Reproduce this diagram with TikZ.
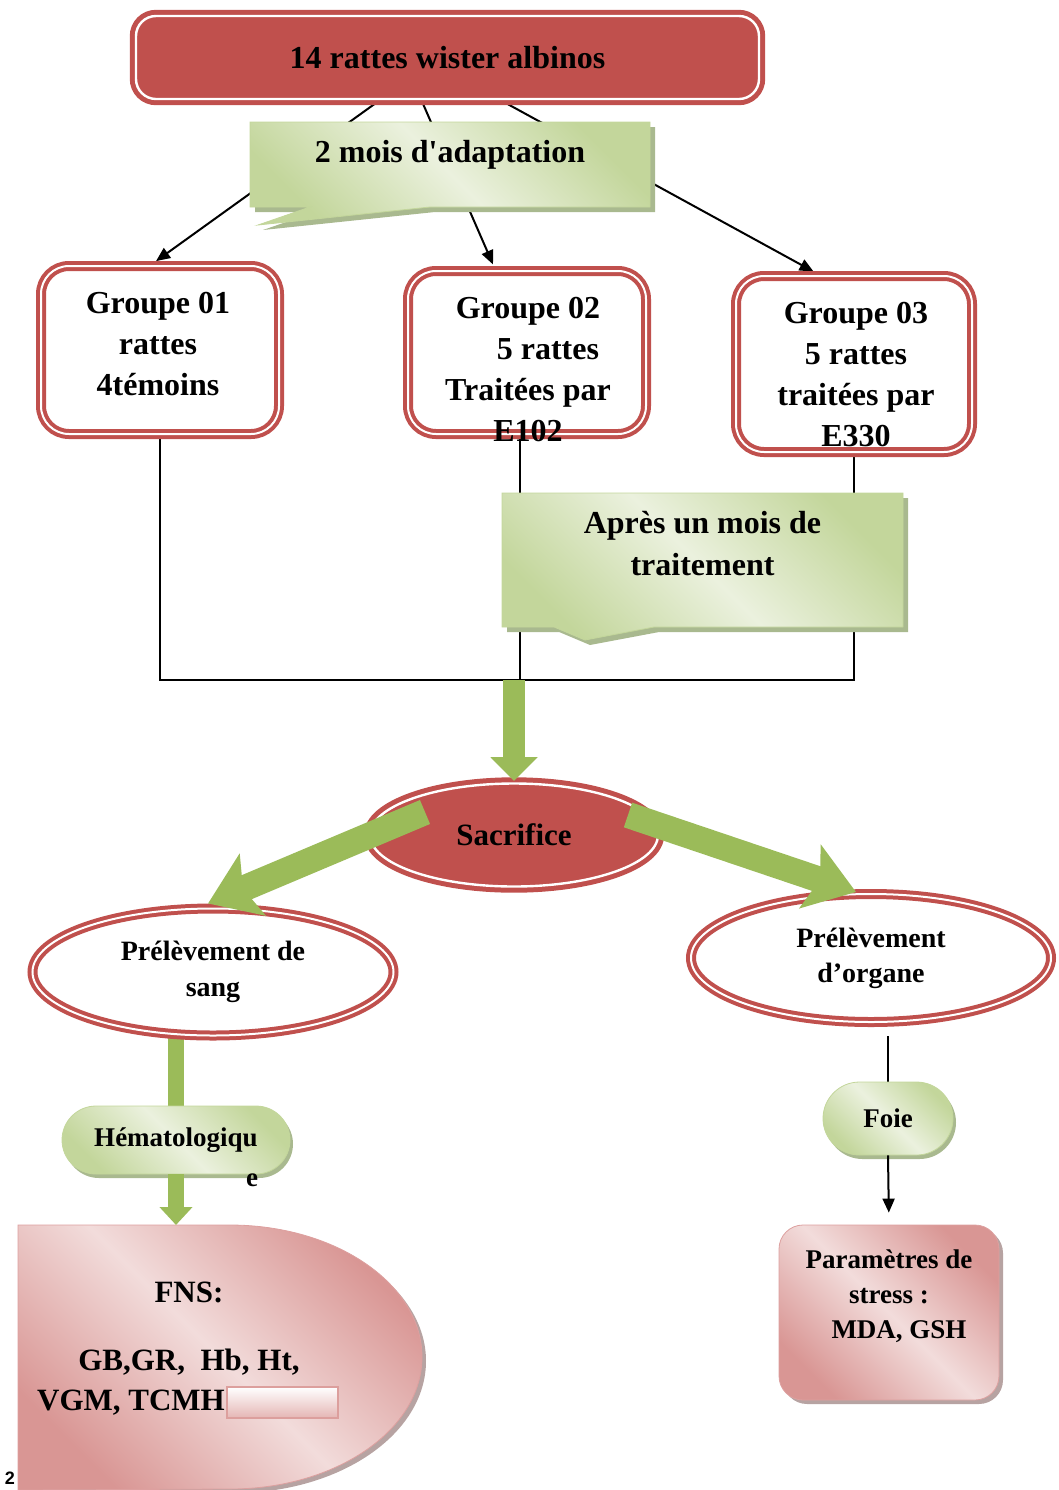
\documentclass[tikz,border=0pt]{standalone}
\usepackage{fontspec}
\setmainfont{Liberation Serif}
\newfontfamily\pagefont{Liberation Sans}
\usetikzlibrary{arrows.meta,calc,shapes.geometric,shapes.misc,shapes.callouts,shadows,backgrounds}

\definecolor{redd}{HTML}{C0504D}
\definecolor{grnL}{HTML}{EBF1DE}
\definecolor{grnD}{HTML}{C3D69B}
\definecolor{grnA}{HTML}{9BBB59}
\definecolor{grnS}{HTML}{A9B98F}
\definecolor{pnkL}{HTML}{F2DCDB}
\definecolor{pnkD}{HTML}{D99694}
\definecolor{pnkS}{HTML}{B7A3A2}

\tikzset{
  fs/.style 2 args={font=\bfseries\fontsize{#1}{#2}\selectfont, align=center, inner sep=0pt},
  sheen/.style 2 args={top color=#1, bottom color=#1, middle color=#2, shading angle=-45},
  redbox/.style={draw=redd, fill=redd, double=white, double distance=1.2pt, line width=2.5pt, rounded corners=10pt},
  redell/.style={ellipse, draw=redd, fill=redd, double=white, double distance=1.2pt, line width=2.5pt},
  grpbox/.style={draw=redd, fill=white, double=white, double distance=1pt, line width=2pt, rounded corners=14pt},
  ringell/.style={ellipse, draw=redd, fill=white, double=white, double distance=1pt, line width=2pt},
  note/.style={rectangle callout, draw=grnD, sheen={grnD}{grnL}, drop shadow={fill=grnS, opacity=1, shadow xshift=2.5pt, shadow yshift=-2.5pt}},
  pill/.style={rounded rectangle, draw=grnD, sheen={grnD}{grnL}, drop shadow={fill=grnS, opacity=1, shadow xshift=1.5pt, shadow yshift=-2pt}},
  pnk/.style={sheen={pnkD}{pnkL}, drop shadow={fill=pnkS, opacity=1, shadow xshift=2pt, shadow yshift=-2pt}},
  arr/.style={line width=1pt, -{Triangle[width=6pt,length=7pt]}},
  ln/.style={line width=1pt},
  fat/.style={draw=grnA, line width=11pt, -{Triangle[width=23pt,length=12pt]}},
  fatdiag/.style={fat, line width=13pt, -{Stealth[width=33pt,length=24pt,inset=5pt]}},
}

\begin{document}
\begin{tikzpicture}[x=0.5pt,y=-0.5pt]
\useasboundingbox (0,0) rectangle (1059,1490);

% haut
\node[redbox, fs={16}{20}, minimum width=311.5pt, minimum height=41.5pt] (rats) at (447.5,57.5) {14 rattes wister albinos};
\node[note, fs={16}{20}, minimum width=200pt, minimum height=42.5pt, callout absolute pointer={(258,225)}, callout pointer width=60pt] (adapt) at (450,164.5) {2 mois d\textquotesingle adaptation\rule[-13pt]{0pt}{13pt}};

% groupes
\node[grpbox, minimum width=119pt, minimum height=84pt] (g1) at (160,350) {};
\node[fs={16}{20.5}] (g1t) at (158,344) {Groupe 01\\ rattes\\4témoins};
\node[grpbox, minimum width=119pt, minimum height=81.5pt] (g2) at (527,352.5) {};
\node[fs={16}{20.5}] (g2t) at (528,369.5) {Groupe 02\\\hspace*{20pt}5 rattes\\Traitées par\\E102};
\node[grpbox, minimum width=118pt, minimum height=88pt] (g3) at (854,364) {};
\node[fs={16}{20.5}] (g3t) at (856,374.5) {Groupe 03\\5 rattes\\traitées par\\E330};

\node[note, fs={16}{21}, minimum width=200.5pt, minimum height=67pt, callout absolute pointer={(585,640)}, callout pointer width=50pt] (apres) at (702.5,560) {Après un mois de\\traitement\rule[-17pt]{0pt}{17pt}};

% sacrifice
\node[redell, fs={15.5}{18}, minimum width=144pt, minimum height=51.5pt] (sac) at (514,835) {Sacrifice};
\node[ringell, fs={14}{18}, minimum width=180.5pt, minimum height=63.5pt] (blood) at (213,972) {Prélèvement de\\sang};
\node[ringell, fs={14}{17.5}, minimum width=180pt, minimum height=64pt] (org) at (871,958) {Prélèvement\\d’organe};

% sang
\node[pill, fs={13.5}{17}, minimum width=114pt, minimum height=34pt] (hema) at (176,1140) {Hématologiqu};
\node[fs={13.5}{17}] (hemae) at (252,1180) {e};
\path[pnk, draw=pnkD!90] (18,1225) coordinate (fnsnw) -- (230,1225) arc[start angle=-90, end angle=90, x radius=192, y radius=132] -- (18,1490) -- cycle;
\node[fs={15.5}{20}] (fns) at (189,1349) {FNS:\\[14pt]GB,GR,~~Hb, Ht,\\VGM, TCMH\hspace*{58pt}};
\node[draw=redd!55, line width=1pt, top color=white, bottom color=pnkD!70, minimum width=55.5pt, minimum height=15.5pt, inner sep=0pt] (mask) at (282.5,1402.5) {};

% organe
\node[pill, fs={13.5}{17}, minimum width=65pt, minimum height=36.5pt] (foie) at (888,1118.5) {Foie};
\node[pnk, rounded corners=12pt, draw=pnkD!90, fs={13.5}{17.5}, minimum width=110pt, minimum height=87.5pt] (param) at (889,1312.5) {Paramètres de\\stress :\\\hspace*{10pt}MDA, GSH\rule[-18pt]{0pt}{18pt}};

\node[font=\pagefont\bfseries\fontsize{9}{10}\selectfont, inner sep=0pt] (pg) at (10,1478) {2};

\coordinate (bar) at (514,680);
\coordinate (g2out) at ($(g2.south)+(-7,0)$);
\begin{pgfonlayer}{background}
  \draw[arr, shorten >=2.5pt] ($(rats.south)+(-69.5,0)$) -- ($(g1.north)+(-8,0)$);
  \draw[arr, shorten >=2.5pt] ($(rats.south)+(-25.5,0)$) -- ($(g2.north)+(-32,0)$);
  \draw[arr, shorten >=2.5pt] ($(rats.south)+(55.5,0)$) -- ($(g3.north)+(-36,0)$);
  \draw[ln] (g1.south) |- (bar) -| (g3.south);
  \draw[ln] (g2out) -- (g2out |- bar);
  \draw[draw=grnA, line width=8pt] (hema.north |- blood.south) -- (hema.north);
  \draw[ln, shorten >=6pt] (foie.north) -- (foie.north |- org.south);
\end{pgfonlayer}

\draw[fat] (bar) -- (sac.north);
\draw[fatdiag] ($(sac.center)+(-89,-23)$) -- ($(blood.north)+(-5,-3)$);
\draw[fatdiag] ($(sac.center)+(114,-20)$) -- ($(org.north)+(-15,0)$);
\draw[fat, line width=8pt, -{Triangle[width=16pt,length=9pt]}] (hema.south) -- (hema.south |- fnsnw);
\draw[arr, shorten >=6pt] (foie.south) -- (param.north);
\end{tikzpicture}
\end{document}
